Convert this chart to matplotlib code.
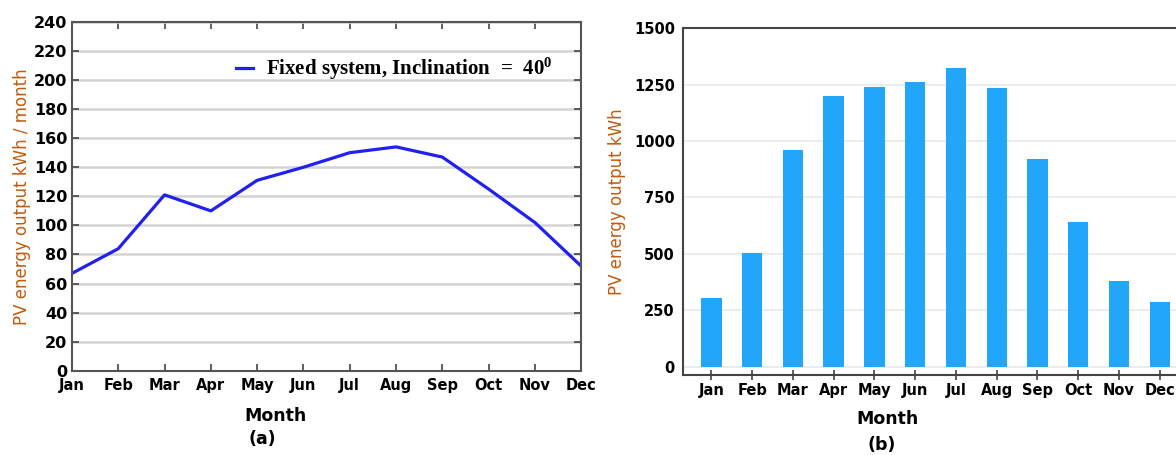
import matplotlib.pyplot as plt
import numpy as np

months = ["Jan", "Feb", "Mar", "Apr", "May", "Jun", "Jul", "Aug", "Sep", "Oct", "Nov", "Dec"]
fixed_output = [67, 84, 121, 110, 131, 140, 150, 154, 147, 125, 102, 72]
yearly_bars = [305, 505, 960, 1200, 1240, 1260, 1325, 1235, 920, 640, 380, 285]
left_yticks = list(range(0, 241, 20))
right_yticks = [0, 250, 500, 750, 1000, 1250, 1500]

plt.rcParams["mathtext.fontset"] = "custom"
plt.rcParams["mathtext.bf"] = "Liberation Serif:bold"
plt.rcParams["mathtext.rm"] = "Liberation Serif"

fig = plt.figure(figsize=(11.76, 4.55), dpi=100)
x = np.arange(len(months))

# (a) line chart
ax1 = fig.add_axes([0.0612, 0.185, 0.433, 0.767])
ax1.plot(x, fixed_output, color="#2020f0", lw=2.3,
         label="Fixed system, $\\mathbf{Inclination\\ =\\ 40^0}$")
ax1.set_xlim(0, 11)
ax1.set_ylim(0, 240)
ax1.set_yticks(left_yticks)
ax1.set_xticks(x)
ax1.set_xticklabels(months, fontweight="bold", fontsize=10.5)
for t in ax1.get_yticklabels():
    t.set_fontweight("bold")
    t.set_fontsize(11.5)
ax1.grid(axis="y", color="#d4d4d4", lw=1.8)
ax1.tick_params(direction="in", top=True, right=True, length=5, width=1.2, color="#444444")
ax1.tick_params(axis="x", pad=5)
for s in ax1.spines.values():
    s.set_color("#555555")
    s.set_linewidth(1.5)
ax1.set_ylabel("PV energy output kWh / month", color="#c05a10", fontsize=12, labelpad=2)
leg = ax1.legend(loc="upper right", bbox_to_anchor=(0.98, 0.955), frameon=False, handlelength=0.8,
                 handletextpad=0.6,
                 prop={"family": "Liberation Serif", "weight": "bold", "size": 15})
fig.text(0.234, 0.075, "Month", ha="center", fontsize=12.5, fontweight="bold")
fig.text(0.223, 0.025, "(a)", ha="center", fontsize=12.5, fontweight="bold")

# (b) bar chart
ax2 = fig.add_axes([0.581, 0.176, 0.426, 0.762])
ax2.bar(x, yearly_bars, width=0.5, color="#22a6fa")
ax2.set_xlim(-0.69, 11.6)
ax2.set_ylim(-37, 1500)
ax2.set_yticks(right_yticks)
ax2.set_xticks(x)
ax2.set_xticklabels(months, fontweight="bold", fontsize=10.5)
for t in ax2.get_yticklabels():
    t.set_fontweight("bold")
    t.set_fontsize(10.5)
ax2.grid(axis="y", color="#ececec", lw=1.5)
ax2.set_axisbelow(True)
ax2.tick_params(axis="y", length=0, pad=6)
ax2.tick_params(axis="x", direction="inout", length=7, width=1.2, color="#444444", pad=2)
for s in ax2.spines.values():
    s.set_color("#444444")
    s.set_linewidth(1.5)
ax2.set_ylabel("PV energy output kWh", color="#c05a10", fontsize=12, labelpad=6)
fig.text(0.755, 0.068, "Month", ha="center", fontsize=12.5, fontweight="bold")
fig.text(0.75, 0.01, "(b)", ha="center", fontsize=12.5, fontweight="bold")

fig.savefig("out.png", dpi=100)
